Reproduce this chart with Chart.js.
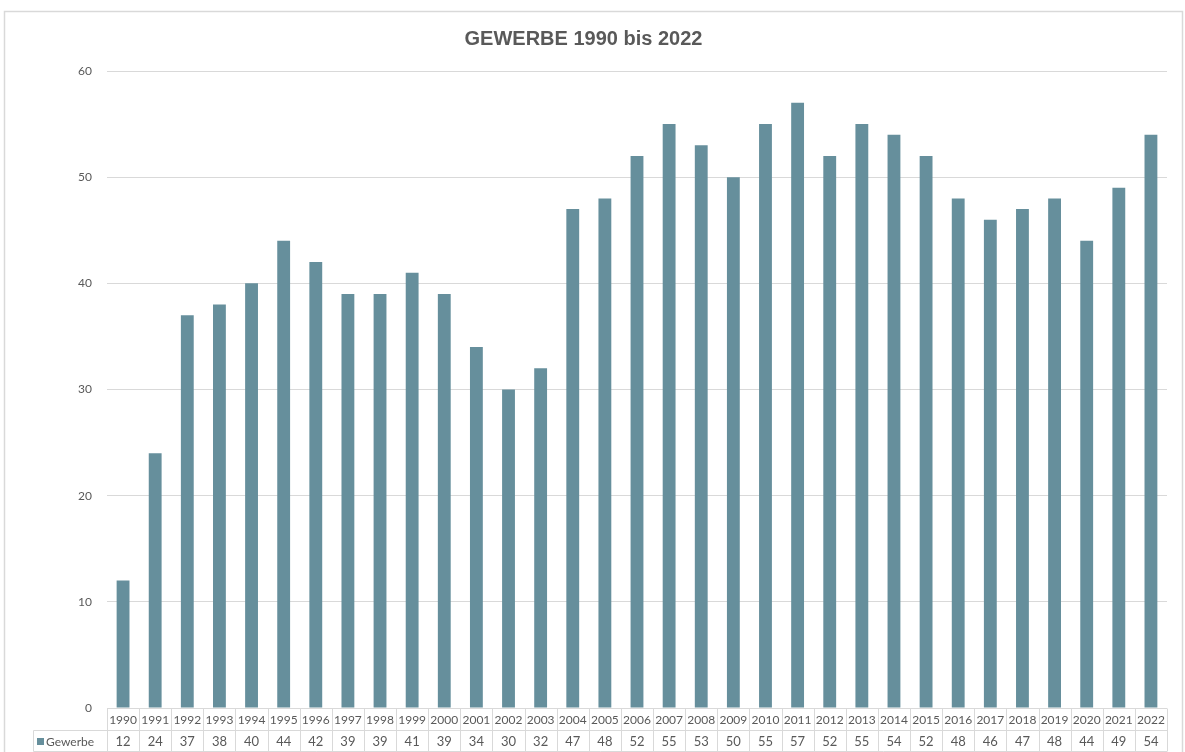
<!DOCTYPE html>
<html>
<head>
<meta charset="utf-8">
<script src="https://cdn.jsdelivr.net/npm/chart.js@4.4.1/dist/chart.umd.min.js"></script>
<style>
    body { margin: 0; background: #ffffff; }
    #wrap { width: 1185px; height: 752px; position: relative; }
</style>
</head>
<body>
<div id="wrap"><canvas id="barChart"></canvas></div>
<script>
// ------------------------------
// Data
// ------------------------------

const years = ["1990", "1991", "1992", "1993", "1994", "1995", "1996", "1997", "1998", "1999",
    "2000", "2001", "2002", "2003", "2004", "2005", "2006", "2007", "2008", "2009",
    "2010", "2011", "2012", "2013", "2014", "2015", "2016", "2017", "2018", "2019",
    "2020", "2021", "2022"];

const gewerbe = [12, 24, 37, 38, 40, 44, 42, 39, 39, 41,
    39, 34, 30, 32, 47, 48, 52, 55, 53, 50,
    55, 57, 52, 55, 54, 52, 48, 46, 47, 48,
    44, 49, 54];

const seriesName = "Gewerbe";
const yTicks = [0, 10, 20, 30, 40, 50, 60];

const barColor = "#668F9C";
const lineColor = "#D9D9D9";
const textColor = "#595959";

// ------------------------------
// Frame + data table under the plot
// ------------------------------

const frameAndTable = {
    id: "frameAndTable",
    beforeDraw(chart) {
        const ctx = chart.ctx;
        ctx.save();
        ctx.strokeStyle = lineColor;
        ctx.lineWidth = 1.5;
        ctx.strokeRect(4.5, 11.5, 1178, 760);
        ctx.restore();
    },
    afterDraw(chart) {
        const ctx = chart.ctx;
        const x = chart.scales.x;
        const area = chart.chartArea;
        const top = Math.round(area.bottom) + 0.5;
        const mid = top + 22;
        const bottom = mid + 21;
        const half = (area.right - area.left) / years.length / 2;
        const legendLeft = 33.5;

        ctx.save();
        ctx.strokeStyle = lineColor;
        ctx.lineWidth = 1;

        ctx.beginPath();
        ctx.moveTo(area.left, top);
        ctx.lineTo(area.right, top);
        ctx.moveTo(legendLeft, mid);
        ctx.lineTo(area.right, mid);
        ctx.moveTo(legendLeft, bottom);
        ctx.lineTo(area.right, bottom);
        ctx.moveTo(legendLeft, mid);
        ctx.lineTo(legendLeft, bottom);
        for (let i = 0; i < years.length; i++) {
            const l = Math.round(x.getPixelForValue(i) - half) + 0.5;
            ctx.moveTo(l, top);
            ctx.lineTo(l, bottom);
        }
        const r = Math.round(area.right) + 0.5;
        ctx.moveTo(r, top);
        ctx.lineTo(r, bottom);
        ctx.stroke();

        ctx.fillStyle = textColor;
        ctx.textAlign = "center";
        ctx.textBaseline = "middle";
        for (let i = 0; i < years.length; i++) {
            const cx = x.getPixelForValue(i);
            ctx.font = "12px Lato";
            ctx.fillText(years[i], cx, (top + mid) / 2 + 1);
            ctx.font = "13px Lato";
            ctx.fillText(String(gewerbe[i]), cx, (mid + bottom) / 2 + 1);
        }

        // legend key
        ctx.fillStyle = barColor;
        ctx.fillRect(37, (mid + bottom) / 2 - 3, 7, 7);
        ctx.fillStyle = textColor;
        ctx.textAlign = "left";
        ctx.font = "12px Lato";
        ctx.fillText(seriesName, 46, (mid + bottom) / 2 + 1);
        ctx.restore();
    }
};

// ------------------------------
// Bar Chart
// ------------------------------

new Chart(document.getElementById("barChart"), {
    type: "bar",
    data: {
        labels: years,
        datasets: [{
            label: seriesName,
            data: gewerbe,
            backgroundColor: barColor,
            barPercentage: 0.4,
            categoryPercentage: 1.0
        }]
    },
    options: {
        responsive: true,
        maintainAspectRatio: false,
        animation: false,
        layout: {
            padding: { left: 0, right: 18, top: 0, bottom: 44 }
        },
        plugins: {
            legend: { display: false },
            tooltip: { enabled: false },
            title: {
                display: true,
                text: "GEWERBE 1990 bis 2022",
                color: textColor,
                font: { family: "Liberation Sans", size: 20, weight: "bold" },
                padding: { top: 27, bottom: 20 }
            }
        },
        scales: {
            x: {
                display: false
            },
            y: {
                min: yTicks[0],
                max: yTicks[yTicks.length - 1],
                afterFit(scale) { scale.width = 107; },
                afterBuildTicks(scale) {
                    scale.ticks = yTicks.map(v => ({ value: v }));
                },
                border: { display: false },
                grid: { color: lineColor, drawTicks: false },
                ticks: {
                    padding: 15,
                    color: textColor,
                    font: { family: "Lato", size: 12 }
                }
            }
        }
    },
    plugins: [frameAndTable]
});
</script>
</body>
</html>
